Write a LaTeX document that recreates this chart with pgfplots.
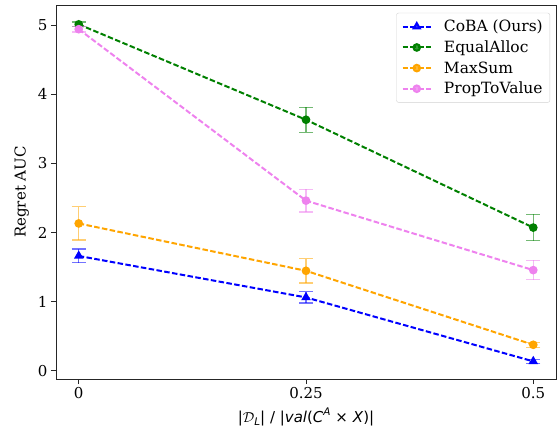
\documentclass[border=0pt]{standalone}
\usepackage{pgfplots}
\pgfplotsset{compat=1.18}
\usepackage{pgfplotstable}
\usepackage{fontspec}
\setmainfont{DejaVu Serif}
\newfontfamily\dvs{DejaVu Sans}
\definecolor{mgreen}{HTML}{008000}
\definecolor{morange}{HTML}{FFA500}
\definecolor{mviolet}{HTML}{EE82EE}
\definecolor{mblue}{HTML}{0000FF}

\pgfplotstableread{
x y e
0 1.66 0.10
0.25 1.06 0.08
0.5 0.135 0.025
}\coba
\pgfplotstableread{
x y e
0 5.01 0.035
0.25 3.63 0.18
0.5 2.07 0.19
}\equal
\pgfplotstableread{
x y e
0 2.13 0.24
0.25 1.445 0.175
0.5 0.375 0.035
}\maxsum
\pgfplotstableread{
x y e
0 4.94 0.04
0.25 2.46 0.165
0.5 1.455 0.14
}\prop

\pgfplotsset{
  myerr/.style={error bars/.cd, y dir=both, y explicit,
    error bar style={line width=1.2pt, opacity=0.55, solid},
    error mark options={rotate=90, mark size=7pt, line width=1.2pt, opacity=0.55, solid}},
  mydash/.style={line width=2pt, dash pattern=on 5.5pt off 2.4pt}
}

\begin{document}
\begin{tikzpicture}
\begin{axis}[
  width=500pt, height=374pt, scale only axis,
  xmin=-0.025, xmax=0.525, ymin=-0.12, ymax=5.29,
  xtick={0,0.25,0.5}, xticklabels={0,0.25,0.5},
  ytick={0,1,2,3,4,5},
  tick align=outside, xtick pos=bottom, ytick pos=left,
  major tick length=5pt,
  tick style={line width=0.9pt, black!85},
  axis line style={line width=0.9pt, black!85},
  font=\fontsize{15}{18}\selectfont,
  /pgf/number format/assume math mode=true,
  xlabel={{\dvs |$\mathcal{D}$\raisebox{-0.25em}{\fontsize{10.5}{12}\selectfont\itshape L}| / |\textit{val}(\textit{C}\raisebox{0.45em}{\fontsize{10.5}{12}\selectfont\itshape A} × \textit{X})|}},
  ylabel={Regret AUC},
  xlabel style={yshift=-2pt},
  ylabel style={yshift=2pt},
  legend style={at={(0.988,0.979)}, anchor=north east, draw=gray!35, fill=white, fill opacity=0.8, text opacity=1, rounded corners=2pt, font=\fontsize{15.5}{18}\selectfont, row sep=3.5pt, inner sep=5pt},
  legend cell align=left,
  legend image code/.code={
    \draw[mark repeat=2,mark phase=2] plot coordinates {(0cm,0cm) (0.5cm,0cm) (1.0cm,0cm)};
    \path (1.35cm,0cm);
  },
]
\coordinate (sw) at (rel axis cs:0,0);
\coordinate (ne) at (rel axis cs:1,1);
\addplot[mblue, mydash, mark=triangle*, mark size=3.6pt, mark options={solid}, myerr] table[x=x,y=y,y error=e]{\coba};
\addlegendentry{CoBA (Ours)}
\addplot[mgreen, mydash, mark=*, mark size=3.3pt, mark options={solid}, myerr] table[x=x,y=y,y error=e]{\equal};
\addlegendentry{EqualAlloc}
\addplot[morange, mydash, mark=*, mark size=3.3pt, mark options={solid}, myerr] table[x=x,y=y,y error=e]{\maxsum};
\addlegendentry{MaxSum}
\addplot[mviolet, mydash, mark=*, mark size=3.3pt, mark options={solid}, myerr] table[x=x,y=y,y error=e]{\prop};
\addlegendentry{PropToValue}
\end{axis}
\pgfresetboundingbox
\path ([shift={(-56pt,-55pt)}]sw) rectangle ([shift={(1pt,5pt)}]ne);
\end{tikzpicture}
\end{document}
